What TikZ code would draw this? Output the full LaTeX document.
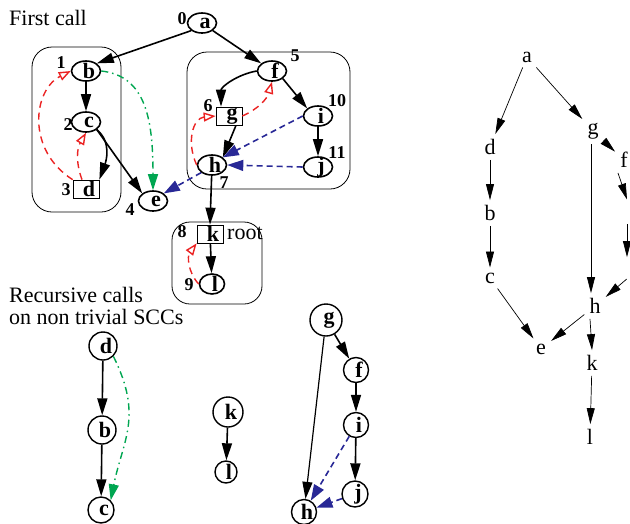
\documentclass[tikz,border=0pt]{standalone}
\usepackage{fontspec}
\setmainfont{Liberation Serif}
\usetikzlibrary{arrows.meta,shapes.geometric}
\definecolor{myred}{RGB}{235,35,35}
\definecolor{mygreen}{RGB}{0,166,81}
\definecolor{myblue}{RGB}{40,40,150}
\tikzset{
  lblfont/.style={font=\fontsize{22}{22}\selectfont\bfseries},
  el/.style={ellipse,draw,line width=1.6pt,minimum width=29pt,minimum height=20pt,inner sep=0pt},
  sq/.style={rectangle,draw,line width=0.7pt,minimum width=26pt,minimum height=18pt,inner sep=0pt},
  ci/.style={circle,draw,line width=1.4pt,inner sep=0pt},
  lt/.style={label={[lblfont,inner sep=0pt,xshift=3pt]center:#1}},
  num/.style={font=\fontsize{18}{18}\selectfont\bfseries,inner sep=0pt},
  txt/.style={font=\fontsize{22}{22}\selectfont,inner sep=0pt},
  rl/.style={font=\fontsize{22}{22}\selectfont,inner sep=5pt},
  scc/.style={draw,line width=0.8pt,rounded corners=20pt},
  blk/.style={line width=1.6pt,-{Triangle[length=17pt,width=10pt]}},
  blkthin/.style={line width=1.2pt,-{Triangle[length=17pt,width=10pt]}},
  redb/.style={myred,line width=1.4pt,dash pattern=on 7pt off 5pt,-{Triangle[open,length=12pt,width=9pt,fill=white]}},
  blueb/.style={myblue,line width=1.6pt,dash pattern=on 6pt off 4pt,-{Triangle[length=16pt,width=11pt]}},
  greenb/.style={mygreen,line width=1.4pt,dash pattern=on 7pt off 4pt on 1.5pt off 4pt,-{Triangle[length=16pt,width=10pt]}},
  thinarr/.style={line width=0.7pt,-{Triangle[length=16pt,width=8pt]}}
}
\begin{document}
\begin{tikzpicture}
\useasboundingbox (0,0) rectangle (630pt,-523pt);
\clip (0,0) rectangle (630pt,-523pt);
\begin{scope}[x=1pt,y=1pt]
% SCC boxes
\draw[scc] (32,-47) rectangle (121,-212);
\draw[scc] (187,-52) rectangle (350,-189);
\draw[scc,rounded corners=18pt] (172,-222) rectangle (262,-304);

% texts
\node[txt,anchor=west] (t1) at (9,-18) {First call};
\node[txt,anchor=north west,align=left,font=\fontsize{22}{22}\selectfont] (t2) at (9,-287) {Recursive calls\\on non trivial SCCs};

% first call nodes
\node[el,lt=a] (a) at (202,-23) {};
\node[el,lt=b] (b) at (86,-71) {};
\node[el,lt=c] (c) at (86,-122) {};
\node[sq,lt=d] (d) at (86,-189) {};
\node[el,lt=e] (e) at (153,-201) {};
\node[el,lt=f] (f) at (272,-71) {};
\node[sq,lt=g] (g) at (229,-116) {};
\node[el,lt=i] (i) at (318,-116) {};
\node[el,lt=h] (h) at (212,-165) {};
\node[el,lt=j] (j) at (318,-167) {};
\node[sq,lt=k] (k) at (210,-234) {};
\node[el,lt=l,minimum width=25pt] (l) at (212,-284) {};
\node[txt,anchor=west] (root) at (227,-233) {root};

% numbers
\node[num] (n0) at (182,-19) {0};
\node[num] (n1) at (61,-63) {1};
\node[num] (n2) at (68,-125) {2};
\node[num] (n3) at (66,-190) {3};
\node[num] (n4) at (130,-210) {4};
\node[num] (n5) at (295,-56) {5};
\node[num] (n6) at (208,-106) {6};
\node[num] (n7) at (224,-183) {7};
\node[num] (n8) at (182,-232) {8};
\node[num] (n9) at (189,-285) {9};
\node[num] (n10) at (337,-101) {10};
\node[num] (n11) at (337,-153) {11};

% black edges
\draw[blk] (a.south west) -- (b.north east);
\draw[blk] (a.south east) -- (f.north west);
\draw[blk] (b) -- (c);
\draw[blk] (c.south east) to[out=-40,in=70] (d.north east);
\draw[blk] (c.south east) -- (e.north west);
\draw[blk] (f.west) to[out=190,in=90] ([xshift=-8pt]g.north);
\draw[blk] (f.south east) -- (i.north west);
\draw[blk] ([xshift=7pt]g.south) -- (h.north east);
\draw[blk] (i) -- (j);
\draw[blk] (h) -- (k.north);
\draw[blk] (k) -- (l);

% green
\draw[greenb] (b.east) .. controls +(45,-5) and +(0,70) .. (e.north);

% red
\draw[redb] (d.north west) .. controls (26,-150) and (33,-90) .. (b.west);
\draw[redb] ([xshift=-4pt]d.north) to[bend left=25] (c.south);
\draw[redb] (g.east) to[bend right=25] (f.south);
\draw[redb] (h.west) .. controls (186,-142) and (193,-118) .. (g.west);
\draw[redb] (l.west) to[bend left=40] (k.south west);

% blue
\draw[blueb] (i.west) -- (h.north east);
\draw[blueb] (j.west) -- (h.east);
\draw[blueb] (h.south west) -- (e.north east);

% recursive calls
\node[ci,lt=d,minimum size=28pt] (d2) at (103,-346) {};
\node[ci,lt=b,minimum size=28pt] (b2) at (102,-430) {};
\node[ci,lt=c,minimum size=26pt] (c2) at (101,-510) {};
\draw[blk] (d2) -- (b2);
\draw[blk] (b2) -- (c2);
\draw[greenb] (d2.south east) .. controls +(30,-60) and +(12,60) .. (c2.north east);

\node[ci,lt=k,minimum size=30pt] (k2) at (228,-412) {};
\node[ci,lt=l,minimum size=22pt] (l2) at (226,-472) {};
\draw[blk] (k2) -- (l2);

\node[ci,lt=g,minimum size=32pt] (g3) at (326,-320) {};
\node[ci,lt=f,minimum size=25pt] (f3) at (356,-370) {};
\node[ci,lt=i,minimum size=25pt] (i3) at (356,-425) {};
\node[ci,lt=j,minimum size=26pt] (j3) at (355,-494) {};
\node[ci,lt=h,minimum size=25pt] (h3) at (304,-512) {};
\draw[blk] (g3) -- (f3);
\draw[blk] (f3) -- (i3);
\draw[blk] (i3) -- (j3);
\draw[blkthin] (g3) -- (h3);
\draw[blueb] (i3) -- (h3);
\draw[blueb] (j3) -- (h3);

% right graph
\node[rl] (ra) at (527,-57) {a};
\node[rl] (rd) at (490,-147) {d};
\node[rl] (rb) at (490,-213) {b};
\node[rl] (rc) at (490,-278) {c};
\node[rl] (rg) at (593,-131) {g};
\node[rl] (rf) at (624,-160) {f};
\node[rl] (ri) at (635,-212) {i};
\node[rl] (rj) at (635,-272) {j};
\node[rl] (rh) at (595,-306) {h};
\node[rl] (re) at (541,-349) {e};
\node[rl] (rk) at (592,-363) {k};
\node[rl] (rl) at (590,-437) {l};
\draw[thinarr] (ra) -- (rd);
\draw[thinarr] (ra) -- (rg);
\draw[thinarr] (rd) -- (rb);
\draw[thinarr] (rb) -- (rc);
\draw[thinarr] (rg) -- (rf);
\draw[thinarr] ([xshift=-6pt]rf.south) -- ([xshift=-8pt]ri.north);
\draw[thinarr] ([xshift=-8pt]ri.south) -- ([xshift=-8pt]rj.north);
\draw[thinarr] ([xshift=-2pt]rg.south) -- ([xshift=-4pt]rh.north);
\draw[thinarr] (rj) -- (rh);
\draw[thinarr] (rc) -- (re);
\draw[thinarr] (rh) -- (re);
\draw[thinarr] ([xshift=-5pt]rh.south) -- (rk.north);
\draw[thinarr] (rk) -- (rl);
\end{scope}
\end{tikzpicture}
\end{document}
